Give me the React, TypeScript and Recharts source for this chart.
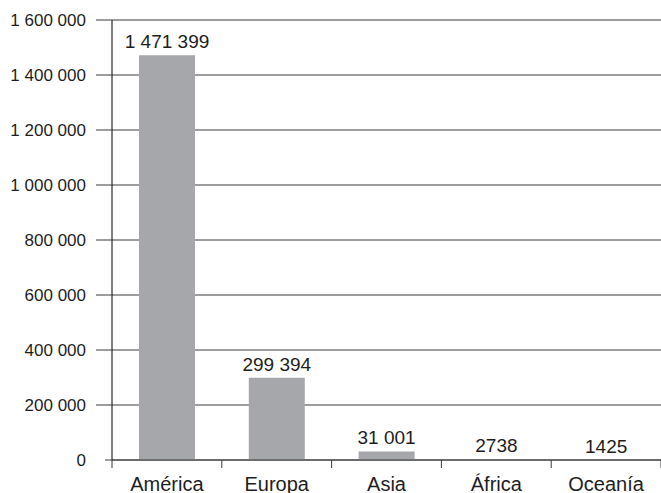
import React from 'react';
import { BarChart, Bar, XAxis, YAxis, CartesianGrid, LabelList } from 'recharts';

const continents = ['América', 'Europa', 'Asia', 'África', 'Oceanía'];
const visitors = [1471399, 299394, 31001, 2738, 1425];
const yTicks = [0, 200000, 400000, 600000, 800000, 1000000, 1200000, 1400000, 1600000];

const data = continents.map((name, i) => ({ name, value: visitors[i] }));

const WIDTH = 661;
const HEIGHT = 493;
const Y_AXIS_W = 112;
const BAND = (WIDTH - Y_AXIS_W) / continents.length;
const FONT = '"Liberation Sans", Arial, Helvetica, sans-serif';
const LINE = '#3a3a3a';
const TEXT = '#1e1e1e';

// thousands grouped with (non-breaking) spaces; four-digit numbers left as is
const fmt = (v: number) =>
  v >= 10000 ? String(v).replace(/\B(?=(\d{3})+(?!\d))/g, '\u00a0') : String(v);

const YTick = (props: any) => {
  const { x, y, payload } = props;
  const len = payload.value === 0 ? 7 : 16;
  return (
    <g>
      <line x1={x - len} x2={x} y1={y} y2={y} stroke={LINE} strokeWidth={1} />
      <text x={x - 26} y={y} dy="0.36em" textAnchor="end" fontSize={17} fill={TEXT} fontFamily={FONT}>
        {fmt(payload.value)}
      </text>
    </g>
  );
};

const XTick = (props: any) => {
  const { x, y, payload, index } = props;
  const left = x - BAND / 2;
  const last = index === continents.length - 1;
  return (
    <g>
      <line x1={left} x2={left} y1={y} y2={y + 8} stroke={LINE} strokeWidth={1} />
      {last && <line x1={x + BAND / 2} x2={x + BAND / 2} y1={y} y2={y + 8} stroke={LINE} strokeWidth={1} />}
      <text x={x} y={y + 31} textAnchor="middle" fontSize={20} fill={TEXT} fontFamily={FONT}>
        {payload.value}
      </text>
    </g>
  );
};

const BarValue = (props: any) => {
  const { x, y, width, value } = props;
  return (
    <text x={x + width / 2} y={y - 7} textAnchor="middle" fontSize={19} fill={TEXT} fontFamily={FONT}>
      {fmt(Number(value))}
    </text>
  );
};

export default function App() {
  return (
    <div style={{ position: 'absolute', left: 0, top: 0, width: WIDTH, height: HEIGHT, background: '#fff' }}>
      <BarChart width={WIDTH} height={HEIGHT} data={data} margin={{ top: 20, right: 0, left: 0, bottom: 0 }}>
        <CartesianGrid vertical={false} stroke={LINE} strokeWidth={1} />
        <XAxis
          dataKey="name"
          height={33}
          axisLine={{ stroke: LINE }}
          tickLine={false}
          tickSize={0}
          tickMargin={0}
          tick={<XTick />}
          interval={0}
        />
        <YAxis
          width={Y_AXIS_W}
          domain={[0, 1600000]}
          ticks={yTicks}
          axisLine={{ stroke: '#000' }}
          tickLine={false}
          tickSize={0}
          tickMargin={0}
          tick={<YTick />}
          interval={0}
        />
        <Bar dataKey="value" fill="#a6a7aa" barSize={56} isAnimationActive={false}>
          <LabelList dataKey="value" content={<BarValue />} />
        </Bar>
      </BarChart>
    </div>
  );
}
